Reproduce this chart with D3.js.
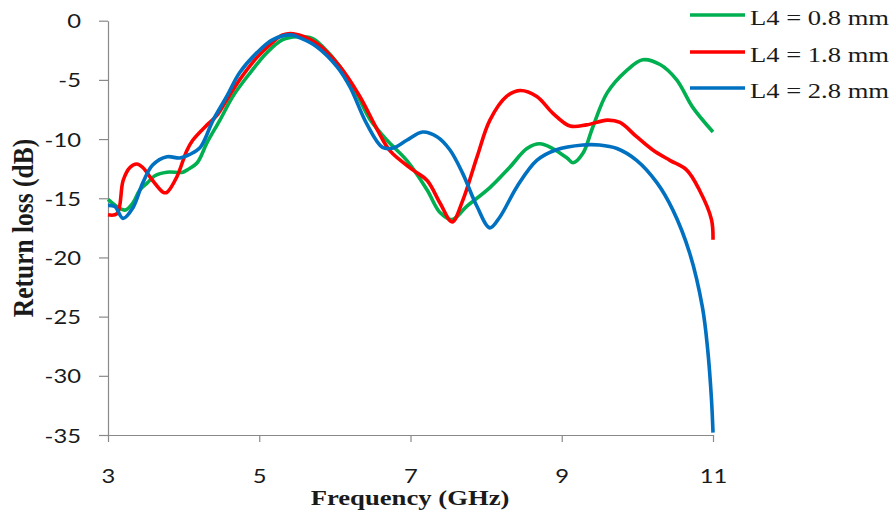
<!DOCTYPE html>
<html>
<head>
<meta charset="utf-8">
<script src="https://cdn.jsdelivr.net/npm/d3@7"></script>
<style>
  html, body { margin: 0; padding: 0; background: #ffffff; }
  svg { display: block; }
</style>
</head>
<body>
<svg id="chart" width="896" height="515"></svg>
<script>
// ---- data ----
const seriesNames = ["L4 = 0.8 mm", "L4 = 1.8 mm", "L4 = 2.8 mm"];
const seriesColors = ["#00b050", "#ff0000", "#0070c0"];

const freqGreen = [3.00, 3.22, 3.33, 3.42, 3.52, 3.62, 3.78, 3.99, 4.05, 4.18, 4.31, 4.48, 4.65, 4.88, 5.10, 5.31, 5.50, 5.70, 5.84, 6.07, 6.29, 6.46, 6.69, 6.95, 7.22, 7.39, 7.55, 7.74, 8.05, 8.31, 8.54, 8.71, 8.88, 9.07, 9.15, 9.28, 9.41, 9.60, 9.86, 10.07, 10.30, 10.52, 10.73, 11.00];
const lossGreen = [-15.1, -16.0, -15.4, -14.3, -13.7, -13.1, -12.8, -12.8, -12.6, -12.0, -10.3, -8.4, -6.4, -4.4, -2.7, -1.6, -1.35, -1.5, -2.2, -3.9, -6.2, -8.3, -10.1, -11.8, -14.3, -16.2, -16.8, -15.7, -14.1, -12.4, -10.8, -10.4, -10.8, -11.6, -12.0, -11.2, -9.0, -6.1, -4.2, -3.3, -3.7, -5.0, -7.3, -9.4];

const freqRed = [3.00, 3.12, 3.20, 3.29, 3.38, 3.46, 3.59, 3.73, 3.78, 3.91, 4.04, 4.12, 4.31, 4.44, 4.57, 4.74, 4.97, 5.18, 5.31, 5.45, 5.76, 6.07, 6.33, 6.56, 6.73, 7.03, 7.22, 7.39, 7.55, 7.69, 7.88, 8.05, 8.27, 8.45, 8.67, 8.88, 9.11, 9.33, 9.60, 9.77, 9.99, 10.20, 10.43, 10.65, 10.82, 10.98, 11.00];
const lossRed = [-16.4, -16.3, -13.5, -12.4, -12.1, -12.4, -13.5, -14.5, -14.5, -13.2, -11.0, -10.1, -8.8, -8.0, -6.7, -5.0, -3.1, -1.8, -1.2, -1.1, -1.9, -3.9, -6.4, -9.2, -11.0, -12.6, -13.5, -15.4, -17.0, -15.2, -11.5, -8.4, -6.4, -5.9, -6.4, -7.8, -8.9, -8.8, -8.4, -8.6, -9.8, -10.9, -11.8, -12.6, -14.3, -16.8, -18.5];

const freqBlue = [3.00, 3.09, 3.20, 3.33, 3.46, 3.59, 3.78, 3.95, 4.08, 4.22, 4.39, 4.57, 4.74, 4.97, 5.18, 5.41, 5.54, 5.76, 6.03, 6.20, 6.42, 6.63, 6.77, 6.95, 7.16, 7.35, 7.52, 7.69, 7.88, 8.05, 8.18, 8.41, 8.67, 8.93, 9.28, 9.50, 9.73, 9.99, 10.26, 10.47, 10.69, 10.86, 10.93, 10.98, 11.00];
const lossBlue = [-15.6, -15.7, -16.7, -15.8, -13.7, -12.2, -11.5, -11.6, -11.3, -10.7, -8.4, -6.4, -4.4, -2.7, -1.6, -1.2, -1.45, -2.2, -3.9, -5.6, -8.7, -10.7, -10.75, -10.1, -9.4, -9.8, -10.9, -12.9, -15.7, -17.5, -16.6, -14.0, -11.8, -10.9, -10.5, -10.5, -10.8, -11.8, -13.7, -16.0, -19.6, -24.2, -27.8, -32.0, -34.8];

const xTicks = [3, 5, 7, 9, 11];
const yTicks = [0, -5, -10, -15, -20, -25, -30, -35];
const xTitle = "Frequency (GHz)";
const yTitle = "Return loss (dB)";

const freqs = [freqGreen, freqRed, freqBlue];
const losses = [lossGreen, lossRed, lossBlue];

// ---- layout ----
const svg = d3.select("#chart");
const plotLeft = 108, plotRight = 713, plotTop = 20.7, plotBottom = 435;
const axisColor = "#898989";
const textColor = "#1a1a1a";
const stretch = 1.22;

const x = d3.scaleLinear().domain([3, 11]).range([plotLeft, plotRight]);
const y = d3.scaleLinear().domain([-35, 0]).range([plotBottom, plotTop]);

// y axis
const yAxis = svg.append("g")
  .attr("transform", `translate(${plotLeft},0)`)
  .call(d3.axisLeft(y).tickValues(yTicks).tickSize(9).tickSizeOuter(0).tickFormat(d3.format("d")));
yAxis.select(".domain").attr("stroke", axisColor).attr("stroke-width", 1.2);
yAxis.selectAll(".tick line").attr("stroke", axisColor).attr("stroke-width", 1.2);
yAxis.selectAll(".tick text")
  .attr("x", 0).attr("dy", "0.36em")
  .attr("transform", `translate(-27,0) scale(${stretch},1)`)
  .attr("fill", textColor)
  .style("font-family", "Lato, 'Open Sans', sans-serif")
  .style("font-size", "19.5px")
  .attr("text-anchor", "end")
  .text(d => d === 0 ? "0" : "-" + Math.abs(d));

// x axis
const xAxis = svg.append("g")
  .attr("transform", `translate(0,${plotBottom})`)
  .call(d3.axisBottom(x).tickValues(xTicks).tickSize(7).tickSizeOuter(0).tickFormat(d3.format("d")));
xAxis.select(".domain").attr("stroke", axisColor).attr("stroke-width", 1.2);
xAxis.selectAll(".tick line").attr("stroke", axisColor).attr("stroke-width", 1.2);
xAxis.selectAll(".tick text")
  .attr("y", 0).attr("dy", 0)
  .attr("transform", `translate(0,48) scale(${stretch},1)`)
  .attr("fill", textColor)
  .style("font-family", "Lato, 'Open Sans', sans-serif")
  .style("font-size", "19.5px")
  .attr("text-anchor", "middle");

// lines
const line = d3.line()
  .x(d => x(d[0]))
  .y(d => y(d[1]))
  .curve(d3.curveCatmullRom.alpha(0.5));

freqs.forEach((fs, i) => {
  const pts = fs.map((f, j) => [f, losses[i][j]]);
  svg.append("path")
    .datum(pts)
    .attr("fill", "none")
    .attr("stroke", seriesColors[i])
    .attr("stroke-width", 3.6)
    .attr("stroke-linejoin", "round")
    .attr("stroke-linecap", "butt")
    .attr("d", line);
});

// axis titles
svg.append("text")
  .attr("transform", `translate(410,505) scale(1.27,1)`)
  .attr("text-anchor", "middle")
  .attr("fill", textColor)
  .style("font-family", "'Liberation Serif', 'Times New Roman', serif")
  .style("font-weight", "bold")
  .style("font-size", "21px")
  .text(xTitle);

svg.append("text")
  .attr("transform", `translate(33,228) rotate(-90) scale(1,1.18)`)
  .attr("text-anchor", "middle")
  .attr("fill", textColor)
  .style("font-family", "'Liberation Serif', 'Times New Roman', serif")
  .style("font-weight", "bold")
  .style("font-size", "25.5px")
  .text(yTitle);

// legend
const legendY = [15, 52, 88];
const legend = svg.append("g");
seriesNames.forEach((name, i) => {
  legend.append("line")
    .attr("x1", 690).attr("x2", 745)
    .attr("y1", legendY[i]).attr("y2", legendY[i])
    .attr("stroke", seriesColors[i])
    .attr("stroke-width", 3.6);
  legend.append("text")
    .attr("transform", `translate(750,${legendY[i] + 9.5}) scale(1.33,1)`)
    .attr("fill", textColor)
    .style("font-family", "'Liberation Serif', 'Times New Roman', serif")
    .style("font-size", "20px")
    .text(name);
});
</script>
</body>
</html>
